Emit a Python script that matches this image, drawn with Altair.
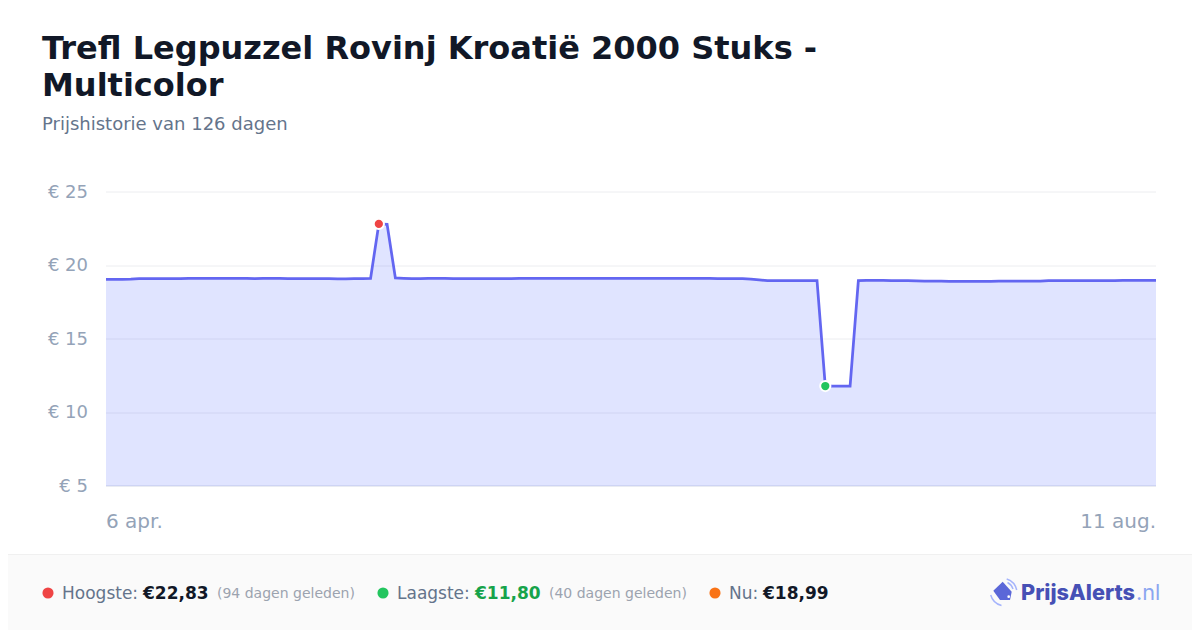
import altair as alt
import pandas as pd

TITLE_LINES = ["Trefl Legpuzzel Rovinj Kroatië 2000 Stuks -", "Multicolor"]
SUBTITLE = "Prijshistorie van 126 dagen"
START_LABEL = "6 apr."
END_LABEL = "11 aug."
Y_TICKS = [5, 10, 15, 20, 25]
START_DATE = "2025-04-06"

PRICES = [
    19.05, 19.05, 19.06, 19.07, 19.10, 19.10, 19.10, 19.10, 19.10, 19.10,
    19.13, 19.13, 19.13, 19.13, 19.13, 19.13, 19.13, 19.12, 19.11, 19.12,
    19.13, 19.13, 19.11, 19.10, 19.10, 19.10, 19.10, 19.10, 19.09, 19.09,
    19.10, 19.10, 19.12, 22.83, 22.80, 19.15, 19.12, 19.10, 19.10, 19.13,
    19.13, 19.12, 19.10, 19.10, 19.10, 19.10, 19.10, 19.10, 19.10, 19.11,
    19.13, 19.13, 19.13, 19.13, 19.13, 19.13, 19.13, 19.13, 19.13, 19.13,
    19.13, 19.13, 19.13, 19.13, 19.13, 19.13, 19.13, 19.13, 19.13, 19.13,
    19.13, 19.13, 19.13, 19.13, 19.11, 19.10, 19.10, 19.10, 19.08, 19.03,
    18.97, 18.97, 18.97, 18.97, 18.97, 18.97, 18.97, 11.80, 11.80, 11.80,
    11.80, 18.97, 18.98, 18.98, 18.98, 18.97, 18.97, 18.97, 18.95, 18.94,
    18.94, 18.93, 18.92, 18.92, 18.92, 18.92, 18.92, 18.92, 18.93, 18.93,
    18.93, 18.93, 18.93, 18.94, 18.97, 18.97, 18.97, 18.97, 18.97, 18.97,
    18.97, 18.97, 18.97, 18.98, 18.98, 18.99, 18.99, 18.99,
]
HIGH_INDEX = 33
LOW_INDEX = 87

dates = pd.date_range(START_DATE, periods=len(PRICES), freq="D")
df = pd.DataFrame({"date": dates.strftime("%Y-%m-%d"), "price": PRICES})

FONT = "DejaVu Sans"
OX, OY = 106, 192  # plot origin on the page


def px(v):
    return alt.value(v - OX)


def py(v):
    return alt.value(v - OY)


def text(label, x, y, size, color, weight="normal", font=FONT, align="left"):
    return alt.Chart(pd.DataFrame({"t": [label]})).mark_text(
        font=font, fontSize=size, color=color, fontWeight=weight,
        align=align, baseline="alphabetic",
    ).encode(x=px(x), y=py(y), text="t:N")


def dot(x, y, color, diameter=12.5):
    return alt.Chart(pd.DataFrame({"t": [1]})).mark_point(
        filled=True, color=color, opacity=1, size=3.1416 * diameter * diameter / 4,
    ).encode(x=px(x), y=py(y))


def glyph(path, x, y, size, fill=None, stroke=None, sw=1.5):
    kw = {"shape": path, "size": size, "opacity": 1}
    if fill:
        kw.update(filled=True, color=fill)
    else:
        kw.update(filled=False, color=stroke, strokeWidth=sw)
    return alt.Chart(pd.DataFrame({"t": [1]})).mark_point(**kw).encode(x=px(x), y=py(y))


x_scale = alt.Scale(type="utc", domain=[df.date.iloc[0], df.date.iloc[-1]])
y_scale = alt.Scale(domain=[Y_TICKS[0], Y_TICKS[-1]], zero=False, nice=False)

x_enc = alt.X(
    "date:T", scale=x_scale, title=None,
    axis=alt.Axis(
        values=[df.date.iloc[0], df.date.iloc[-1]],
        labelExpr=f"datum.index == 0 ? '{START_LABEL}' : '{END_LABEL}'",
        labelFlush=True, labelFontSize=20, labelColor="#94a3b8", labelFont=FONT,
        labelPadding=26, ticks=False, domain=True, domainColor="#e5e7f0",
        domainWidth=1.5, grid=False, translate=0,
    ),
)
y_enc = alt.Y(
    "price:Q", scale=y_scale, title=None,
    axis=alt.Axis(
        values=Y_TICKS, labelExpr="'€ ' + datum.value",
        labelFontSize=18, labelColor="#94a3b8", labelFont=FONT, labelPadding=18,
        labelOffset=0.7,
        ticks=False, domain=False, grid=True, gridColor="#e5e7eb", gridOpacity=0.75,
        gridWidth=1, translate=0,
    ),
)

base = alt.Chart(df).encode(x=x_enc, y=y_enc)
area = base.mark_area(color="#6478ff", opacity=0.2).encode(y2=alt.datum(Y_TICKS[0]))
line = base.mark_line(color="#6366f1", strokeWidth=2.75, interpolate="linear")
extremes = pd.DataFrame({
    "date": [df.date.iloc[HIGH_INDEX], df.date.iloc[LOW_INDEX]],
    "price": [PRICES[HIGH_INDEX], PRICES[LOW_INDEX]],
    "kind": ["Hoogste", "Laagste"],
})
points = alt.Chart(extremes).mark_point(
    filled=True, size=105, opacity=1, stroke="white", strokeWidth=2,
).encode(
    x=alt.X("date:T", scale=x_scale),
    y=alt.Y("price:Q", scale=y_scale),
    fill=alt.Fill("kind:N", scale=alt.Scale(domain=["Hoogste", "Laagste"], range=["#ef4444", "#22c55e"]), legend=None),
)

footer = alt.Chart(pd.DataFrame({"t": [1]})).mark_rect(color="#fafafa").encode(
    x=px(8), x2=px(1192), y=py(555), y2=py(630)
)
footer_line = alt.Chart(pd.DataFrame({"t": [1]})).mark_rule(color="#f0f0f0", strokeWidth=1).encode(
    x=px(8), x2=px(1192), y=py(554.5)
)

layers = [
    footer, footer_line, area, line, points,
    text(TITLE_LINES[0], 42, 59, 32, "#111827", "bold"),
    text(TITLE_LINES[1], 42, 96, 32, "#111827", "bold"),
    text(SUBTITLE, 42, 130, 18, "#64748b"),
    dot(48, 593, "#ef4444"),
    text("Hoogste:", 62, 599, 17, "#64748b"),
    text("€22,83", 143, 599, 17, "#111827", "bold"),
    text("(94 dagen geleden)", 217, 598, 14, "#9ca3af"),
    dot(383, 593, "#22c55e"),
    text("Laagste:", 397, 599, 17, "#64748b"),
    text("€11,80", 475, 599, 17, "#16a34a", "bold"),
    text("(40 dagen geleden)", 549, 598, 14, "#9ca3af"),
    dot(715, 593, "#f97316"),
    text("Nu:", 729, 599, 17, "#64748b"),
    text("€18,99", 763, 599, 17, "#111827", "bold"),
    glyph("M0.02,-0.93 L0.92,0.07 L0.75,0.9 L-0.25,0.9 L-0.92,-0.03 Z", 1002.5, 591, 400, fill="#5b67d8"),
    dot(1008.7, 596.7, "#ffffff", 3),
    glyph("M0.42,-1.2 A1.5,1.5 0 0 1 1.42,-0.1", 1002.5, 591, 400, stroke="#a5b4fc"),
    glyph("M0.5,-0.85 A1.1,1.1 0 0 1 1.05,-0.2", 1002.5, 591, 400, stroke="#a5b4fc"),
    glyph("M-1.18,0.4 A1.5,1.5 0 0 0 -0.1,1.45", 1002.5, 591, 400, stroke="#a5b4fc"),
    text("PrijsAlerts", 1021, 600, 21.7, "#4650b5", 800, font="Inter"),
    text(".nl", 1136, 600, 21.7, "#8aa5f0", "normal", font="Inter"),
]

chart = alt.layer(*layers).properties(
    width=1050, height=294,
    padding={"left": 98, "top": 184, "right": 36, "bottom": 144},
    autosize=alt.AutoSizeParams(type="none"),
    background="#ffffff",
).configure_view(stroke=None)

chart.save("out.html", embed_options={"renderer": "svg", "actions": False})
